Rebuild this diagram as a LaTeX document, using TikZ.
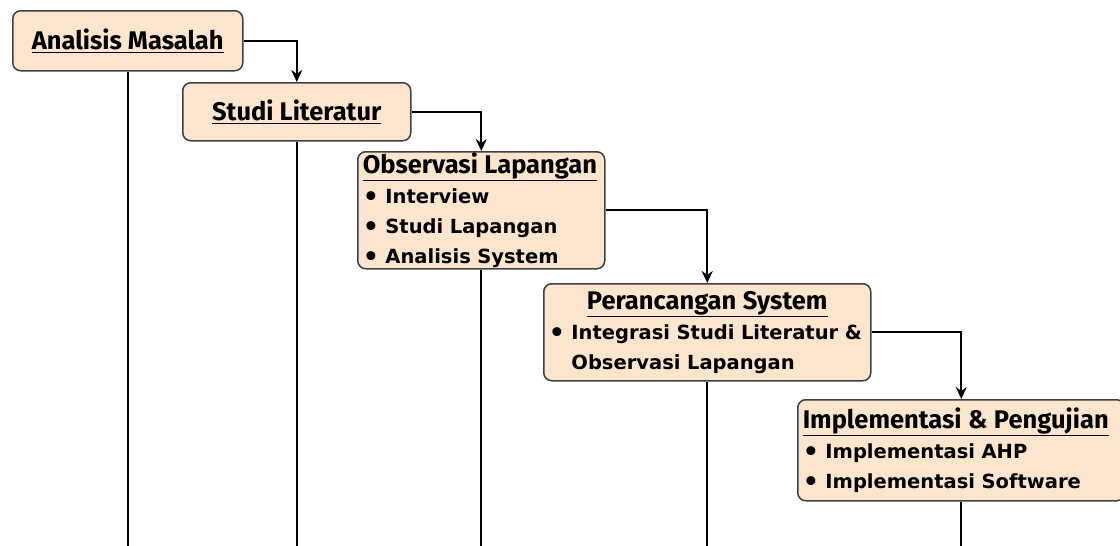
\documentclass[tikz,border=0pt]{standalone}
\usepackage{fontspec}
\setmainfont{Fira Sans}
\newfontfamily\isi{DejaVu Sans}
\usepackage{tikz}
\usetikzlibrary{arrows.meta}
\definecolor{peach}{HTML}{FCE5CD}
\definecolor{tepi}{HTML}{404040}
\tikzstyle{tahap} = [draw=tepi, line width=1.5pt, fill=peach, rounded corners=8pt, anchor=north west, inner xsep=5pt, inner ysep=0pt, font=\isi\fontsize{19.5}{30}\selectfont\bfseries]
\tikzstyle{arrow} = [line width=2pt,-{Stealth[length=12pt,width=11pt]}]
\tikzstyle{garis} = [line width=2pt]
\newcommand{\judul}[1]{{\rmfamily\fontsize{25.5}{30}\selectfont\bfseries\underline{#1}}}
\newcommand{\butir}{\raisebox{-2pt}{\scalebox{1.3}{\textbullet}}\ }

\begin{document}
\begin{tikzpicture}[x=1pt,y=-1pt]
\useasboundingbox (0,0) rectangle (1120,546);
\coordinate (dasar) at (0,546);

\node[tahap, minimum width=230pt, minimum height=60pt, align=center] (masalah) at (12,10) {\judul{Analisis Masalah}};
\node[tahap, minimum width=228pt, minimum height=58pt, align=center] (literatur) at (182,82) {\judul{Studi Literatur}};
\node[tahap, minimum height=117pt, text width=237pt, align=left] (observasi) at (357,151)
  {\judul{Observasi Lapangan}\\ \butir Interview\\ \butir Studi Lapangan\\ \butir Analisis System};
\node[tahap, minimum height=97pt, text width=317pt, align=left] (rancang) at (543,283)
  {\hfill\judul{Perancangan System}\hfill\null\\ \butir Integrasi Studi Literatur \&\\ \phantom{\butir}Observasi Lapangan};
\node[tahap, minimum height=101pt, text width=317pt, align=left] (uji) at (797,399)
  {\judul{Implementasi \& Pengujian}\\ \butir Implementasi AHP\\ \butir Implementasi Software};

% alur antar tahap
\draw[arrow] (masalah.east) -| (literatur.north);
\draw[arrow] (literatur.east) -| (observasi.north);
\draw[arrow] (observasi.east) -| (rancang.north);
\draw[arrow] (rancang.east) -| (uji.north);

% garis ke bawah
\foreach \t in {masalah,literatur,observasi,rancang,uji}
  \draw[garis] (\t.south) -- (\t.south |- dasar);
\end{tikzpicture}
\end{document}
